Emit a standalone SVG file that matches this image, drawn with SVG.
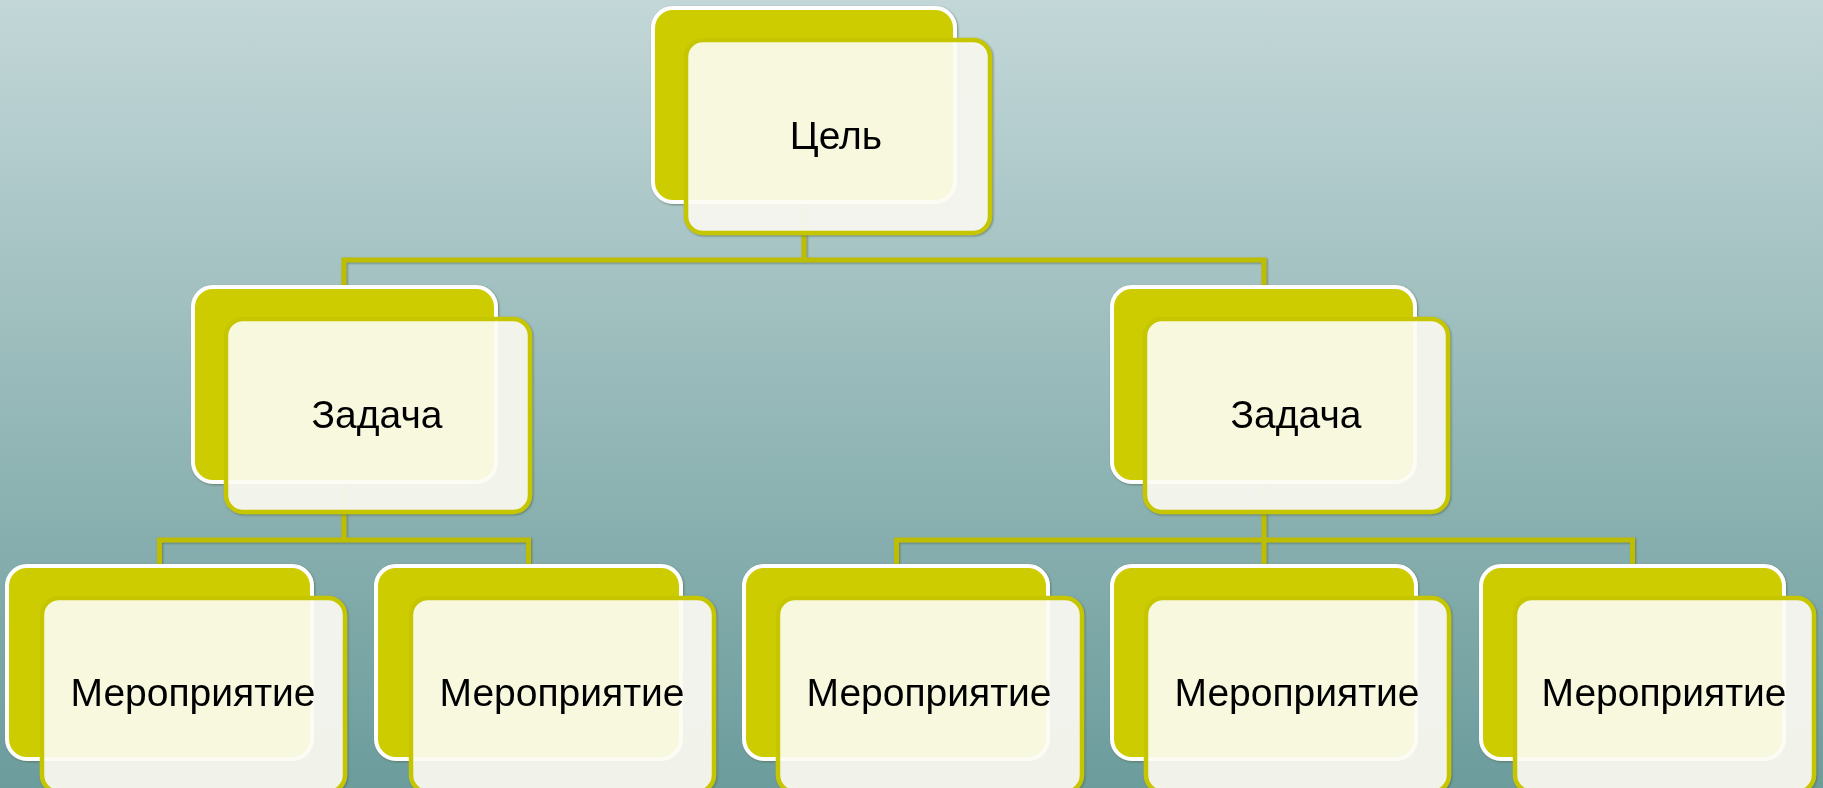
<svg xmlns="http://www.w3.org/2000/svg" width="1823" height="788" viewBox="0 0 1823 788">
<defs>
<linearGradient id="bg" x1="0" y1="0" x2="0" y2="1">
<stop offset="0" stop-color="#C3D7D8"/>
<stop offset="0.5" stop-color="#97B9B9"/>
<stop offset="1" stop-color="#6C9C9C"/>
</linearGradient>
<filter id="sh" x="-5%" y="-5%" width="110%" height="110%">
<feDropShadow dx="1" dy="1" stdDeviation="0.8" flood-color="#4F6A50" flood-opacity="0.7"/>
</filter>
</defs>
<style>
.back{fill:#CCCC00;stroke:#FFFFFF;stroke-width:4}
.front{fill:#FCFCF4;fill-opacity:0.91;stroke:#C6C600;stroke-width:4.5}
.conn{fill:none;stroke:#BEBE00;stroke-width:5;stroke-linejoin:miter}
.lbl{font-family:"Liberation Sans",Arial,sans-serif;font-size:39px;fill:#000000;text-anchor:middle}
</style>
<rect x="0" y="0" width="1823" height="788" fill="url(#bg)"/>
<g id="connectors" filter="url(#sh)">
<path class="conn" d="M804,200 V260 M344,287 V260 H1264 V287"/>
<path class="conn" d="M344,480 V540 M159.5,566 V540 H528.5 V566"/>
<path class="conn" d="M1264,480 V566 M896.5,566 V540 H1632.5 V566"/>
</g>
<g id="goal" filter="url(#sh)">
<rect class="back" x="653" y="8" width="302" height="194" rx="20"/>
<rect class="front" x="686" y="40" width="304" height="193" rx="17"/>
<text class="lbl" x="836" y="149">Цель</text>
</g>
<g id="task1" filter="url(#sh)">
<rect class="back" x="193" y="287" width="303" height="195" rx="20"/>
<rect class="front" x="226" y="319" width="304" height="193" rx="17"/>
<text class="lbl" x="377" y="428">Задача</text>
</g>
<g id="task2" filter="url(#sh)">
<rect class="back" x="1112" y="287" width="303" height="195" rx="20"/>
<rect class="front" x="1145" y="319" width="303" height="193" rx="17"/>
<text class="lbl" x="1296" y="428">Задача</text>
</g>
<g id="act1" filter="url(#sh)">
<rect class="back" x="7" y="566" width="305" height="193" rx="20"/>
<rect class="front" x="42" y="598" width="303" height="194" rx="17"/>
<text class="lbl" x="193" y="706">Мероприятие</text>
</g>
<g id="act2" filter="url(#sh)">
<rect class="back" x="376" y="566" width="305" height="193" rx="20"/>
<rect class="front" x="411" y="598" width="303" height="194" rx="17"/>
<text class="lbl" x="562" y="706">Мероприятие</text>
</g>
<g id="act3" filter="url(#sh)">
<rect class="back" x="744" y="566" width="304" height="193" rx="20"/>
<rect class="front" x="778" y="598" width="304" height="194" rx="17"/>
<text class="lbl" x="929" y="706">Мероприятие</text>
</g>
<g id="act4" filter="url(#sh)">
<rect class="back" x="1112" y="566" width="304" height="193" rx="20"/>
<rect class="front" x="1146" y="598" width="303" height="194" rx="17"/>
<text class="lbl" x="1297" y="706">Мероприятие</text>
</g>
<g id="act5" filter="url(#sh)">
<rect class="back" x="1481" y="566" width="303" height="193" rx="20"/>
<rect class="front" x="1515" y="598" width="299" height="194" rx="17"/>
<text class="lbl" x="1664" y="706">Мероприятие</text>
</g>
</svg>
